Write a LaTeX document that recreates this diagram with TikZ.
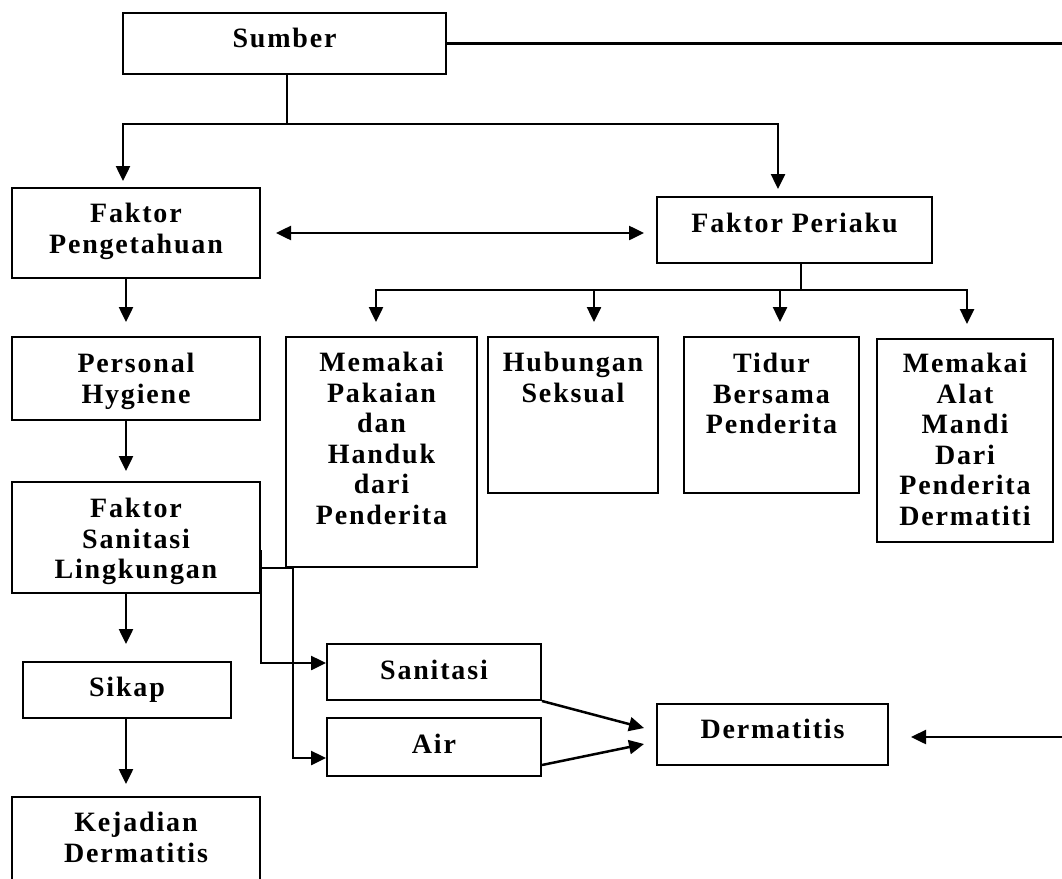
\documentclass[tikz,border=0pt]{standalone}
\usepackage{fontspec}
\setmainfont{Liberation Serif}[LetterSpace=6.5]
\usetikzlibrary{arrows.meta}
\begin{document}
\begin{tikzpicture}[x=1pt,y=-1pt,
  box/.style={draw,line width=2pt,inner sep=0pt},
  txt/.style={anchor=north,inner sep=0pt,align=center,font=\bfseries\fontsize{28}{30.5}\selectfont},
  conn/.style={line width=2.5pt},
  arr/.style={conn,-{Triangle[length=15pt,width=14pt]}},
  arrb/.style={conn,{Triangle[length=15pt,width=14pt]}-{Triangle[length=15pt,width=14pt]}}]
\useasboundingbox (0,0) rectangle (1062,878);

% boxes
\node[box,minimum width=323pt,minimum height=61pt] (sumber) at (284.5,43.5) {};
\node[box,minimum width=248pt,minimum height=90pt] (fpeng) at (136,233) {};
\node[box,minimum width=275pt,minimum height=66pt] (fper) at (794.5,230) {};
\node[box,minimum width=248pt,minimum height=83pt] (pers) at (136,378.5) {};
\node[box,minimum width=248pt,minimum height=111pt] (fsan) at (136,537.5) {};
\node[box,minimum width=208pt,minimum height=56pt] (sikap) at (127,690) {};
\node[box,minimum width=248pt,minimum height=110pt] (kej) at (136,852) {};
\node[box,minimum width=191pt,minimum height=230pt] (mp) at (381.5,452) {};
\node[box,minimum width=170pt,minimum height=156pt] (hs) at (573,415) {};
\node[box,minimum width=175pt,minimum height=156pt] (tb) at (771.5,415) {};
\node[box,minimum width=176pt,minimum height=203pt] (mam) at (965,440.5) {};
\node[box,minimum width=214pt,minimum height=56pt] (san) at (434,672) {};
\node[box,minimum width=214pt,minimum height=58pt] (air) at (434,747) {};
\node[box,minimum width=231pt,minimum height=61pt] (derm) at (772.5,734.5) {};

% texts
\node[txt] (tsumber) at ([yshift=-16pt]sumber.north) {Sumber};
\node[txt] (tfpeng) at ([yshift=-16pt]fpeng.north) {Faktor\\Pengetahuan};
\node[txt] (tfper) at ([yshift=-17pt]fper.north) {Faktor Periaku};
\node[txt] (tpers) at ([yshift=-17pt]pers.north) {Personal\\Hygiene};
\node[txt] (tfsan) at ([yshift=-17pt]fsan.north) {Faktor\\Sanitasi\\Lingkungan};
\node[txt] (tsikap) at ([yshift=-16pt]sikap.north) {Sikap};
\node[txt] (tkej) at ([yshift=-16pt]kej.north) {Kejadian\\Dermatitis};
\node[txt] (tmp) at ([yshift=-16pt]mp.north) {Memakai\\Pakaian\\dan\\Handuk\\dari\\Penderita};
\node[txt] (ths) at ([yshift=-16pt]hs.north) {Hubungan\\Seksual};
\node[txt] (ttb) at ([yshift=-17pt]tb.north) {Tidur\\Bersama\\Penderita};
\node[txt,font=\bfseries\fontsize{28}{30.5}\selectfont] (tmam) at ([yshift=-15pt]mam.north) {Memakai\\Alat\\Mandi\\Dari\\Penderita\\Dermatiti};
\node[txt] (tsan) at ([yshift=-17pt]san.north) {Sanitasi};
\node[txt] (tair) at ([yshift=-16.5pt]air.north) {Air};
\node[txt] (tderm) at ([yshift=-16pt]derm.north) {Dermatitis};

% top branch
\coordinate (j1) at (287,124);
\coordinate (jl) at (123,124);
\coordinate (jr) at (778,124);
\draw[conn] (sumber.south -| j1) -- (j1);
\draw[arr,shorten >=6pt] (j1) -- (jl) -- (jl |- fpeng.north);
\draw[arr,shorten >=7pt] (j1) -- (jr) -- (jr |- fper.north);

% left column
\draw[arr,shorten >=14pt] ([xshift=-10pt]fpeng.south) -- ([xshift=-10pt]pers.north);
\draw[arr,shorten >=10pt] ([xshift=-10pt]pers.south) -- ([xshift=-10pt]fsan.north);
\draw[arr,shorten >=17pt] ([xshift=-10pt]fsan.south) -- ([xshift=-10pt]fsan.south |- sikap.north);
\draw[arr,shorten >=12pt] ([xshift=-1pt]sikap.south) -- ([xshift=-10pt]kej.north);

% double arrow
\draw[arrb,shorten <=15pt,shorten >=12pt] (fpeng.east) -- (fpeng.east -| fper.west);

% behaviour branch
\coordinate (pj) at (801,290);
\coordinate (b1) at (376,290);
\coordinate (b2) at (594,290);
\coordinate (b3) at (780,290);
\coordinate (b4) at (967,290);
\draw[conn] (fper.south -| pj) -- (pj);
\draw[conn] (b2) -- (b3);
\draw[arr,shorten >=14pt] (b2) -- (b1) -- (b1 |- mp.north);
\draw[arr,shorten >=14pt] (b2) -- (b2 |- hs.north);
\draw[arr,shorten >=14pt] (b3) -- (b3 |- tb.north);
\draw[arr,shorten >=14pt] (b3) -- (b4) -- (b4 |- mam.north);

% sanitation connectors
\coordinate (fa) at (261,550);
\coordinate (fb) at (261,568);
\coordinate (fc) at (293,568);
\draw[arr] (fa) |- ([yshift=9pt]san.west);
\draw[arr] (fb) -- (fc) |- ([yshift=-11pt]air.west);

% to dermatitis
\draw[arr] (san.south east) -- ([xshift=-12pt,yshift=6.5pt]derm.west);
\draw[arr] ([yshift=12pt]air.south east) -- ([xshift=-12pt,yshift=-9.5pt]derm.west);

% right loop
\coordinate (ra) at (1080,43.5);
\coordinate (rb) at (1080,737);
\draw[conn] (sumber.east) -- (ra) -- (rb);
\draw[arr,shorten >=22pt] (rb) -- (rb -| derm.east);
\end{tikzpicture}
\end{document}
